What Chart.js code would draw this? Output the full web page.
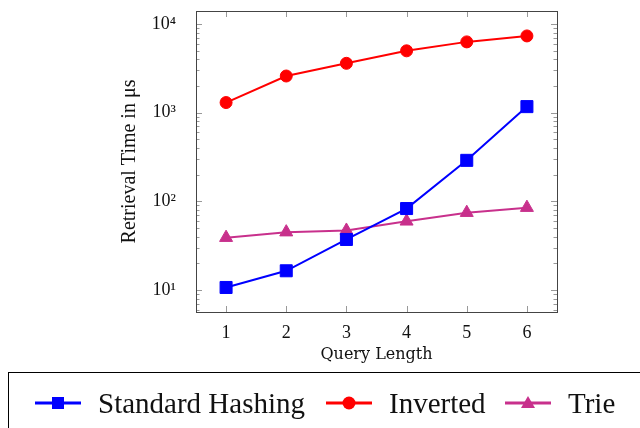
<!DOCTYPE html>
<html>
<head>
<meta charset="utf-8">
<script src="https://cdn.jsdelivr.net/npm/chart.js@4.4.1/dist/chart.umd.min.js"></script>
<style>
  body { margin:0; background:#fff; }
  #wrap { position:relative; width:640px; height:428px; overflow:hidden; }
  #legend {
    position:absolute; left:8px; top:372px; width:640px; height:70px;
    border:1px solid #000; box-sizing:border-box;
    font-family:"Liberation Serif", serif; font-size:29px; color:#111;
  }
  .item { position:absolute; top:13px; display:flex; align-items:center; height:34px; }
  .item svg { margin-right:17px; }
</style>
</head>
<body>
<div id="wrap">
  <canvas id="chart" width="640" height="428"></canvas>
  <div id="legend"></div>
</div>
<script>
const queryLength = [1, 2, 3, 4, 5, 6];
const hashingTimes = [10.7, 16.5, 37.2, 83, 290, 1170];
const invertedTimes = [1300, 2590, 3600, 4980, 6280, 7330];
const trieTimes = [39, 45, 47, 59.6, 74.6, 85];
const yTickLabels = {10: '10\u00B9', 100: '10\u00B2', 1000: '10\u00B3', 10000: '10\u2074'};

const blue = '#0000ff', red = '#ff0000', pink = 'rgb(200,48,140)';
const serif = '"Liberation Serif", serif';
const titleFont = '"DejaVu Serif", serif';

// pgfplots-style frame with inward ticks
const frame = {
  id: 'frame',
  afterDraw(chart) {
    const ctx = chart.ctx, a = chart.chartArea;
    const x = chart.scales.x, y = chart.scales.y;
    ctx.save();
    ctx.strokeStyle = '#999';
    ctx.lineWidth = 1;
    ctx.beginPath();
    queryLength.forEach(v => {
      const px = Math.round(x.getPixelForValue(v)) + 0.5;
      ctx.moveTo(px, a.bottom); ctx.lineTo(px, a.bottom - 6);
      ctx.moveTo(px, a.top); ctx.lineTo(px, a.top + 6);
    });
    for (let e = 0; e <= 4; e++) {
      for (let m = 1; m <= 9; m++) {
        const v = m * Math.pow(10, e);
        if (v < y.min || v > y.max) continue;
        const py = Math.round(y.getPixelForValue(v)) + 0.5;
        const len = m === 1 ? 6 : 3.5;
        ctx.moveTo(a.left, py); ctx.lineTo(a.left + len, py);
        ctx.moveTo(a.right, py); ctx.lineTo(a.right - len, py);
      }
    }
    ctx.stroke();
    ctx.strokeStyle = '#444';
    ctx.strokeRect(Math.round(a.left) + 0.5, Math.round(a.top) + 0.5,
      Math.round(a.right - a.left), Math.round(a.bottom - a.top));
    ctx.restore();
  }
};

function series(label, data, color, style, radius) {
  return {
    label, data, borderColor: color, backgroundColor: color,
    borderWidth: 2, pointStyle: style, pointRadius: radius, pointHoverRadius: radius,
    pointBorderWidth: 1, tension: 0
  };
}

new Chart(document.getElementById('chart'), {
  type: 'line',
  data: {
    labels: queryLength,
    datasets: [
      series('Standard Hashing', hashingTimes, blue, 'rect', 8.5),
      series('Inverted', invertedTimes, red, 'circle', 6),
      series('Trie', trieTimes, pink, 'triangle', 7.5)
    ]
  },
  options: {
    responsive: false,
    animation: false,
    layout: { padding: { left: 0, right: 83, top: 11, bottom: 56 } },
    plugins: { legend: { display: false }, tooltip: { enabled: false } },
    scales: {
      x: {
        type: 'linear', min: 0.5, max: 6.5,
        grid: { display: false }, border: { display: false },
        afterFit(s) { s.height = 60; s.paddingLeft = 0; s.paddingRight = 0; },
        afterBuildTicks(s) { s.ticks = queryLength.map(v => ({ value: v })); },
        ticks: { color: '#111', font: { family: serif, size: 18 }, padding: 2 },
        title: { display: true, text: 'Query Length', color: '#111',
                 font: { family: titleFont, size: 16 }, padding: { top: 0, bottom: 8 } }
      },
      y: {
        type: 'logarithmic', min: 5.66, max: 14000,
        grid: { display: false }, border: { display: false },
        afterFit(s) { s.width = 196; s.paddingTop = 0; s.paddingBottom = 0; },
        afterBuildTicks(s) { s.ticks = Object.keys(yTickLabels).map(v => ({ value: +v })); },
        ticks: { color: '#111', font: { family: serif, size: 18 }, padding: 12,
                 callback: v => yTickLabels[v] || '' },
        title: { display: true, text: 'Retrieval Time in \u03BCs', color: '#111',
                 font: { family: serif, size: 20 }, padding: { top: 118, bottom: 0 } }
      }
    }
  },
  plugins: [frame]
});

// legend as html
const legendItems = [
  { label: 'Standard Hashing', color: blue, shape: 'rect', left: 26 },
  { label: 'Inverted', color: red, shape: 'circle', left: 317 },
  { label: 'Trie', color: pink, shape: 'triangle', left: 496 }
];
const legend = document.getElementById('legend');
legendItems.forEach(it => {
  let mark;
  if (it.shape === 'rect') mark = `<rect x="17" y="11" width="12" height="12" fill="${it.color}"/>`;
  else if (it.shape === 'circle') mark = `<circle cx="23" cy="17" r="6.5" fill="${it.color}"/>`;
  else mark = `<polygon points="23,10 30,22 16,22" fill="${it.color}"/>`;
  const div = document.createElement('div');
  div.className = 'item';
  div.style.left = it.left + 'px';
  div.innerHTML = `<svg width="46" height="34"><line x1="0" y1="17" x2="46" y2="17" stroke="${it.color}" stroke-width="3"/>${mark}</svg><span>${it.label}</span>`;
  legend.appendChild(div);
});
</script>
</body>
</html>
